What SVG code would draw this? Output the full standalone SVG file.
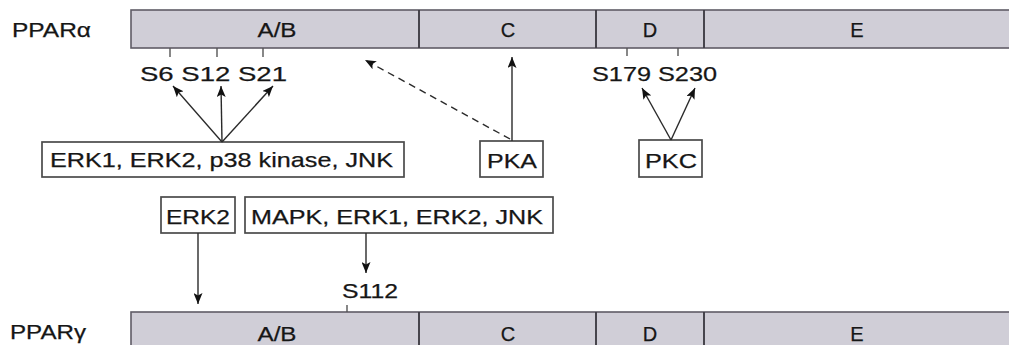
<svg xmlns="http://www.w3.org/2000/svg" width="1009" height="345" viewBox="0 0 1009 345">
<style>
text{font-family:"Liberation Sans",Arial,sans-serif;fill:#161616;font-size:21px;stroke:#161616;stroke-width:0.25}
.lbl{font-size:20px}
.seg{font-size:20px;text-anchor:middle}
.bar{fill:#d0ced7;stroke:#5f5c66;stroke-width:1.6}
.div{stroke:#403e46;stroke-width:1.9}
.box{fill:#fff;stroke:#4a4a4a;stroke-width:1.7}
.tick{stroke:#555;stroke-width:1.4}
.arr{stroke:#2a2a2a;stroke-width:1.4;fill:none;marker-end:url(#ah)}
.dash{stroke-dasharray:7 5}
</style>
<defs>
<marker id="ah" markerUnits="userSpaceOnUse" markerWidth="12" markerHeight="9" refX="11" refY="4.5" orient="auto">
<path d="M0,0 L11,4.5 L0,9 L2.5,4.5 z" fill="#111"/>
</marker>
</defs>
<rect width="1009" height="345" fill="#fff"/>

<g id="ppar-alpha">
<text class="lbl" x="12" y="37" textLength="79" lengthAdjust="spacingAndGlyphs">PPARα</text>
<rect class="bar" x="131" y="10" width="890" height="38"/>
<line class="div" x1="419" y1="10" x2="419" y2="48"/>
<line class="div" x1="596" y1="10" x2="596" y2="48"/>
<line class="div" x1="704" y1="10" x2="704" y2="48"/>
<text class="seg" x="277" y="37" textLength="39" lengthAdjust="spacingAndGlyphs">A/B</text>
<text class="seg" x="508" y="37">C</text>
<text class="seg" x="650" y="37">D</text>
<text class="seg" x="857" y="37">E</text>
<line class="tick" x1="170" y1="48" x2="170" y2="57"/>
<line class="tick" x1="217" y1="48" x2="217" y2="57"/>
<line class="tick" x1="263" y1="48" x2="263" y2="57"/>
<line class="tick" x1="627" y1="48" x2="627" y2="56"/>
<line class="tick" x1="678" y1="48" x2="678" y2="56"/>
<text x="140" y="81" textLength="147" lengthAdjust="spacingAndGlyphs">S6 S12 S21</text>
<text x="592" y="81" textLength="125" lengthAdjust="spacingAndGlyphs">S179 S230</text>
</g>

<g id="ppar-gamma">
<text class="lbl" x="10" y="339" textLength="76" lengthAdjust="spacingAndGlyphs">PPARγ</text>
<rect class="bar" x="131" y="312" width="890" height="45"/>
<line class="div" x1="419" y1="312" x2="419" y2="345"/>
<line class="div" x1="596" y1="312" x2="596" y2="345"/>
<line class="div" x1="704" y1="312" x2="704" y2="345"/>
<text class="seg" x="277" y="341" textLength="39" lengthAdjust="spacingAndGlyphs">A/B</text>
<text class="seg" x="508" y="341">C</text>
<text class="seg" x="650" y="341">D</text>
<text class="seg" x="857" y="341">E</text>
<line class="tick" x1="347" y1="305" x2="347" y2="312"/>
<text x="342" y="298" textLength="56" lengthAdjust="spacingAndGlyphs">S112</text>
</g>

<g id="erk-group">
<rect class="box" x="42" y="142" width="362" height="35"/>
<text x="50" y="167" textLength="343" lengthAdjust="spacingAndGlyphs">ERK1, ERK2, p38 kinase, JNK</text>
</g>
<g id="pka">
<rect class="box" x="480" y="141" width="63" height="36"/>
<text x="487" y="168" textLength="50" lengthAdjust="spacingAndGlyphs">PKA</text>
</g>
<g id="pkc">
<rect class="box" x="639" y="140" width="63" height="37"/>
<text x="645" y="168" textLength="52" lengthAdjust="spacingAndGlyphs">PKC</text>
</g>
<g id="erk2">
<rect class="box" x="161" y="197" width="74" height="36"/>
<text x="166" y="224" textLength="64" lengthAdjust="spacingAndGlyphs">ERK2</text>
</g>
<g id="mapk">
<rect class="box" x="245" y="197" width="308" height="36"/>
<text x="251" y="224" textLength="292" lengthAdjust="spacingAndGlyphs">MAPK, ERK1, ERK2, JNK</text>
</g>

<g id="connectors">
<line class="arr" x1="222" y1="142" x2="173" y2="86"/>
<line class="arr" x1="222" y1="142" x2="221" y2="86"/>
<line class="arr" x1="222" y1="142" x2="273" y2="86"/>
<line class="arr" x1="512" y1="141" x2="512" y2="57"/>
<line class="arr dash" x1="510" y1="139" x2="365" y2="60"/>
<line class="arr" x1="671" y1="140" x2="642" y2="88"/>
<line class="arr" x1="671" y1="140" x2="695" y2="88"/>
<line class="arr" x1="198" y1="233" x2="198" y2="304"/>
<line class="arr" x1="366" y1="233" x2="366" y2="273"/>
</g>
</svg>
